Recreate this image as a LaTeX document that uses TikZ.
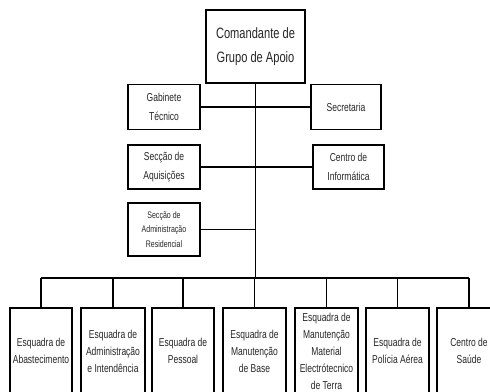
\documentclass[tikz,border=0pt]{standalone}
\usepackage{fontspec}
\setmainfont{Liberation Sans}[FakeStretch=0.74]
\usepackage{tikz}

\begin{document}
\begin{tikzpicture}[
	x=1pt, y=-1pt,
	box/.style={rectangle,draw=black,line width=1.1pt,inner sep=0pt,align=center,text=black!85},
	head/.style={box,minimum width=99pt,minimum height=73pt,font=\fontsize{15}{24}\selectfont},
	staff/.style={box,minimum width=72pt,minimum height=45pt,font=\fontsize{11.5}{19}\selectfont},
	sq/.style={box,minimum width=63pt,minimum height=86pt,font=\fontsize{11.5}{17}\selectfont},
	link/.style={draw=black,line width=1.1pt}
	]
	\useasboundingbox (0,0) rectangle (490,391);
	\clip (0,0) rectangle (490,391);
	\node[head] (cmd) at (255.5,46.5) {Comandante de\\Grupo de Apoio};
	\node[staff] (gab) at (164,107) {Gabinete\\Técnico};
	\node[staff, minimum width=70pt] (sec) at (346,107) {Secretaria};
	\node[staff, minimum height=44pt] (acq) at (164,167) {Secção de\\Aquisições};
	\node[staff, minimum width=71pt, minimum height=44pt] (inf) at (348.5,167) {Centro de\\Informática};
	\node[staff, minimum height=53pt, font=\fontsize{9.5}{14.5}\selectfont] (res) at (164,229.5) {Secção de\\Administração\\Residencial};
	\node[sq, minimum width=62pt] (e1) at (41,351) {Esquadra de\\Abastecimento};
	\node[sq, minimum width=64pt] (e2) at (113,351) {Esquadra de\\Administração\\e Intendência};
	\node[sq, minimum width=62pt] (e3) at (183,351) {Esquadra de\\Pessoal};
	\node[sq] (e4) at (254.5,351) {Esquadra de\\Manutenção\\de Base};
	\node[sq] (e5) at (326.5,351) {Esquadra de\\Manutenção\\Material\\Electrótecnico\\de Terra};
	\node[sq] (e6) at (397.5,351) {Esquadra de\\Polícia Aérea};
	\node[sq, minimum width=64pt] (e7) at (469,351) {Centro de\\Saúde};
	\coordinate (bus) at (255,278);
	\draw[link] (cmd.south) -- (cmd.south |- bus);
	\draw[link] (gab.east) -- (sec.west);
	\draw[link] (acq.east) -- (inf.west);
	\draw[link] (res.east) -- (res.east -| cmd.south);
	\draw[link] (e1.north |- bus) -- (e7.north |- bus);
	\foreach \i in {1,...,7}
		\draw[link] (e\i.north) -- (e\i.north |- bus);
\end{tikzpicture}
\end{document}
